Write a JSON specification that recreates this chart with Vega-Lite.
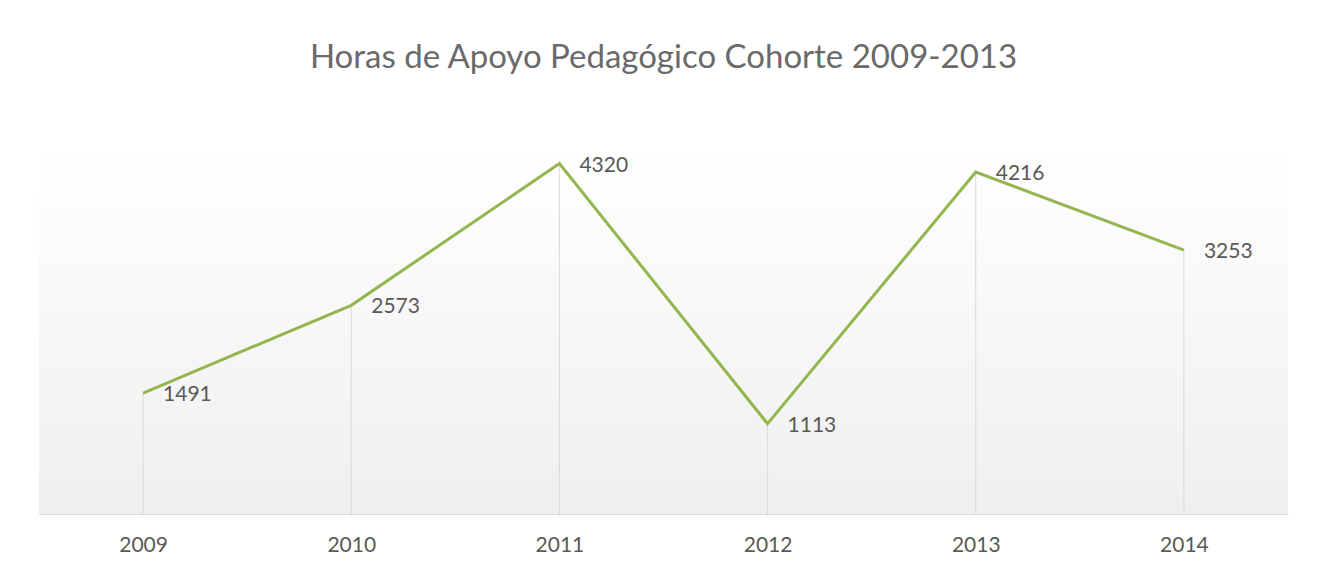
{
  "$schema": "https://vega.github.io/schema/vega-lite/v6.json",
  "width": 1249,
  "height": 365,
  "autosize": {"type": "none"},
  "padding": {"left": 39, "top": 149, "right": 29, "bottom": 54},
  "background": "white",
  "config": {"font": "Lato"},
  "view": {
    "stroke": null,
    "fill": {
      "x1": 0, "y1": 0, "x2": 0, "y2": 1,
      "gradient": "linear",
      "stops": [
        {"offset": 0, "color": "#ffffff"},
        {"offset": 1, "color": "#efefef"}
      ]
    }
  },
  "title": {
    "text": "Horas de Apoyo Pedagógico Cohorte 2009-2013",
    "fontSize": 33,
    "font": "Lato",
    "fontWeight": "normal",
    "color": "#6a6a6a",
    "anchor": "middle",
    "offset": 74
  },
  "data": {
    "values": [
      {"year": "2009", "horas": 1491},
      {"year": "2010", "horas": 2573},
      {"year": "2011", "horas": 4320},
      {"year": "2012", "horas": 1113},
      {"year": "2013", "horas": 4216},
      {"year": "2014", "horas": 3253}
    ]
  },
  "layer": [
    {
      "mark": {"type": "rule", "color": "#d9d9d9", "strokeWidth": 1},
      "encoding": {
        "x": {"field": "year", "type": "ordinal", "scale": {"type": "point", "padding": 0.5},
          "axis": {"title": null, "labelAngle": 0, "ticks": false, "domain": true, "domainColor": "#d9d9d9", "labelFontSize": 21, "labelColor": "#595959", "labelPadding": 20, "grid": false, "labelFont": "Lato"}},
        "y": {"field": "horas", "type": "quantitative", "scale": {"domain": [0, 4500], "nice": false}, "axis": null},
        "y2": {"datum": 0}
      }
    },
    {
      "mark": {"type": "line", "color": "#93b64f", "strokeWidth": 3},
      "encoding": {
        "x": {"field": "year", "type": "ordinal"},
        "y": {"field": "horas", "type": "quantitative"}
      }
    },
    {
      "mark": {"type": "text", "align": "left", "baseline": "middle", "dx": 20, "dy": 2, "fontSize": 21, "color": "#595959", "font": "Lato"},
      "encoding": {
        "x": {"field": "year", "type": "ordinal"},
        "y": {"field": "horas", "type": "quantitative"},
        "text": {"field": "horas", "type": "quantitative", "format": "d"}
      }
    }
  ]
}
